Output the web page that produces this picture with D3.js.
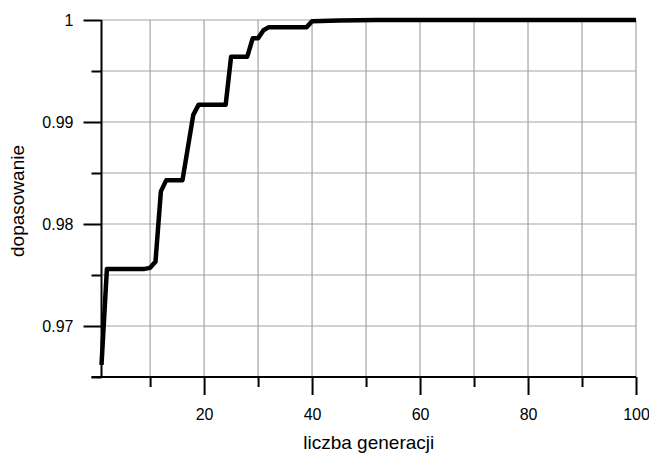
<!DOCTYPE html>
<html>
<head>
<meta charset="utf-8">
<script src="https://cdn.jsdelivr.net/npm/d3@7"></script>
<style>
  body { margin: 0; background: #fff; }
  text { font-family: "Liberation Sans", Arial, sans-serif; }
</style>
</head>
<body>
<div id="chart"></div>
<script>
// breakpoints of the best-fitness curve
var generations = [1, 2, 9, 10, 11, 12, 13, 16, 17, 18, 19, 24, 25, 28, 29, 30, 31, 32, 39, 40, 45, 52, 100];
var fitness = [0.9662, 0.9756, 0.9756, 0.9757, 0.9763, 0.9832, 0.9843, 0.9843, 0.9875, 0.9907, 0.9917, 0.9917,
               0.9964, 0.9964, 0.9982, 0.9982, 0.9990, 0.9993, 0.9993, 0.99988, 0.99995, 1.0, 1.0];
var xMajorTicks = [20, 40, 60, 80, 100];
var xMinorTicks = [10, 30, 50, 70, 90];
var yMajorTicks = [0.97, 0.98, 0.99, 1];
var yMinorTicks = [0.965, 0.975, 0.985, 0.995];
var xGrid = [10, 20, 30, 40, 50, 60, 70, 80, 90, 100];
var yGrid = [0.97, 0.975, 0.98, 0.985, 0.99, 0.995, 1];

render_chart();

function render_chart() {
  var width = 649, height = 453;
  var mLeft = 101.5, mRight = 636, mTop = 20, mBottom = 377;

  var x = d3.scaleLinear().domain([1, 100]).range([mLeft, mRight]);
  var y = d3.scaleLinear().domain([0.965, 1]).range([mBottom, mTop]);

  var svg = d3.select("#chart").append("svg")
    .attr("width", width)
    .attr("height", height);

  // grid
  svg.append("g").selectAll("line")
    .data(xGrid).enter().append("line")
    .attr("x1", function(d) { return x(d); })
    .attr("x2", function(d) { return x(d); })
    .attr("y1", mTop).attr("y2", mBottom)
    .attr("stroke", "#a4a4a4").attr("stroke-width", 1.2);

  svg.append("g").selectAll("line")
    .data(yGrid).enter().append("line")
    .attr("y1", function(d) { return y(d); })
    .attr("y2", function(d) { return y(d); })
    .attr("x1", mLeft).attr("x2", mRight)
    .attr("stroke", "#a4a4a4").attr("stroke-width", 1.2);

  // x axis
  var xAxis = svg.append("g").attr("transform", "translate(0," + mBottom + ")");
  xAxis.append("g")
    .call(d3.axisBottom(x).tickValues(xMajorTicks).tickSize(18).tickPadding(14).tickFormat(d3.format("d")))
    .call(function(g) { g.select(".domain").remove(); });
  xAxis.append("g")
    .call(d3.axisBottom(x).tickValues(xMinorTicks).tickSize(10).tickFormat(""))
    .call(function(g) { g.select(".domain").remove(); });
  xAxis.append("line")
    .attr("x1", mLeft - 10).attr("x2", mRight)
    .attr("stroke", "#000").attr("stroke-width", 2);

  // y axis
  var yAxis = svg.append("g").attr("transform", "translate(" + mLeft + ",0)");
  yAxis.append("g")
    .call(d3.axisLeft(y).tickValues(yMajorTicks).tickSize(18).tickPadding(10).tickFormat(d3.format("")))
    .call(function(g) { g.select(".domain").remove(); });
  yAxis.append("g")
    .call(d3.axisLeft(y).tickValues(yMinorTicks).tickSize(10).tickFormat(""))
    .call(function(g) { g.select(".domain").remove(); });
  yAxis.append("line")
    .attr("y1", mTop).attr("y2", mBottom)
    .attr("stroke", "#000").attr("stroke-width", 2);

  svg.selectAll(".tick line").attr("stroke", "#000").attr("stroke-width", 2);
  svg.selectAll(".tick text")
    .attr("fill", "#000")
    .style("font-size", "16px")
    .style("font-family", "'Liberation Sans', Arial, sans-serif");

  // curve
  var line = d3.line()
    .x(function(d, i) { return x(generations[i]); })
    .y(function(d) { return y(d); });

  svg.append("path")
    .datum(fitness)
    .attr("d", line)
    .attr("fill", "none")
    .attr("stroke", "#000")
    .attr("stroke-width", 4.5)
    .attr("stroke-linejoin", "round")
    .attr("stroke-linecap", "butt");

  // titles
  svg.append("text")
    .attr("x", (mLeft + mRight) / 2)
    .attr("y", 449)
    .attr("text-anchor", "middle")
    .style("font-size", "19px")
    .text("liczba generacji");

  svg.append("text")
    .attr("transform", "translate(24,201) rotate(-90)")
    .attr("text-anchor", "middle")
    .style("font-size", "19px")
    .text("dopasowanie");
}
</script>
</body>
</html>
